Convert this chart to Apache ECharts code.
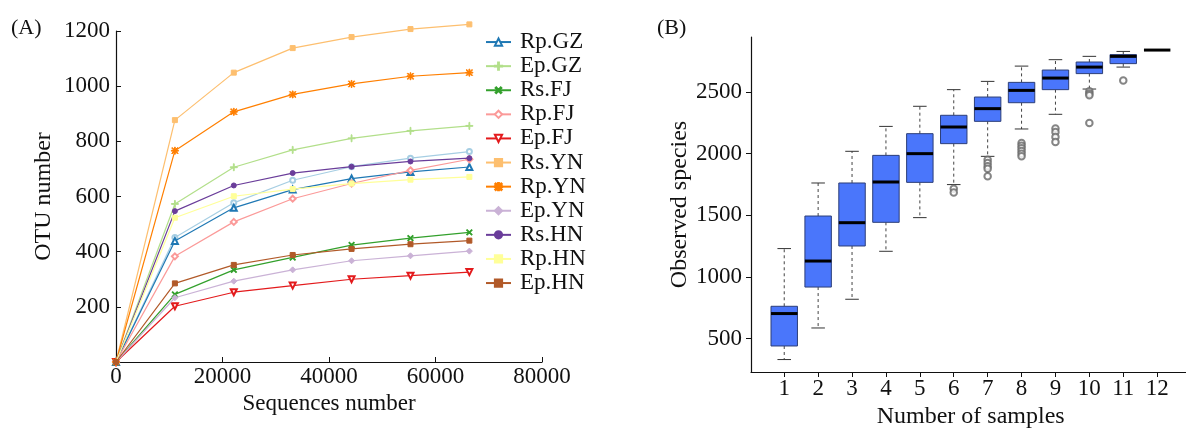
<!DOCTYPE html>
<html>
<head>
<meta charset="utf-8">
<script src="https://cdn.jsdelivr.net/npm/echarts@6/dist/echarts.min.js"></script>
<style>
html,body{margin:0;padding:0;background:#fff;}
#chart{width:1186px;height:429px;}
</style>
</head>
<body>
<div id="chart"></div>
<script>
// ---------- Panel A data ----------
const seqX = [0, 11060, 22120, 33180, 44240, 55300, 66360];
const seriesNames = ['Rs.GZ','Rp.GZ','Ep.GZ','Rs.FJ','Rp.FJ','Ep.FJ','Rs.YN','Rp.YN','Ep.YN','Rs.HN','Rp.HN','Ep.HN'];
const legendNames = ['Rp.GZ','Ep.GZ','Rs.FJ','Rp.FJ','Ep.FJ','Rs.YN','Rp.YN','Ep.YN','Rs.HN','Rp.HN','Ep.HN'];
const RsGZ = [0, 451, 577, 659, 708, 739, 763];
const RpGZ = [0, 439, 559, 625, 665, 689, 707];
const EpGZ = [0, 573, 706, 769, 811, 838, 856];
const RsFJ = [0, 245, 334, 379, 424, 449, 470];
const RpFJ = [0, 383, 508, 592, 647, 695, 735];
const EpFJ = [0, 202, 253, 277, 300, 313, 326];
const RsYN = [0, 877, 1049, 1138, 1178, 1207, 1224];
const RpYN = [0, 766, 907, 970, 1008, 1036, 1049];
const EpYN = [0, 233, 293, 334, 367, 385, 402];
const RsHN = [0, 547, 640, 685, 708, 727, 739];
const RpHN = [0, 523, 601, 627, 647, 661, 671];
const EpHN = [0, 285, 352, 388, 410, 427, 440];
const otuValues = [RsGZ, RpGZ, EpGZ, RsFJ, RpFJ, EpFJ, RsYN, RpYN, EpYN, RsHN, RpHN, EpHN];
const otuTicks = [200, 400, 600, 800, 1000, 1200];
const seqTicks = [0, 20000, 40000, 60000, 80000];

// ---------- Panel B data ----------
const sampleN   = [1, 2, 3, 4, 5, 6, 7, 8, 9, 10, 11, 12];
const whiskLow  = [330, 586, 819, 1208, 1481, 1749, 1978, 2200, 2319, 2524, 2702, 2840];
const q1        = [440, 918, 1251, 1443, 1767, 2081, 2262, 2413, 2519, 2649, 2730, 2840];
const medianV   = [703, 1129, 1440, 1770, 2000, 2216, 2365, 2513, 2613, 2702, 2789, 2840];
const q3        = [762, 1494, 1762, 1986, 2162, 2311, 2459, 2578, 2678, 2743, 2803, 2840];
const whiskHigh = [1230, 1762, 2019, 2221, 2384, 2519, 2586, 2710, 2762, 2789, 2829, 2840];
const outlierX  = [6, 6, 7, 7, 7, 7, 7, 8, 8, 8, 8, 8, 8, 9, 9, 9, 9, 10, 10, 10, 10, 11];
const outlierY  = [1716, 1684, 1951, 1924, 1897, 1878, 1816, 2086, 2065, 2043, 2021, 2000, 1978, 2203, 2175, 2135, 2094, 2505, 2487, 2473, 2248, 2594];
const speciesTicks = [500, 1000, 1500, 2000, 2500];

// ---------- styling ----------
const FONT = 'Liberation Serif';
const colors = ['#a6cee3','#1f78b4','#b2df8a','#33a02c','#fb9a99','#e31a1c','#fdbf6f','#ff7f00','#cab2d6','#6a3d9a','#ffff99','#b15928'];
const plusPath = 'path://M4.4,0H5.6V4.4H10V5.6H5.6V10H4.4V5.6H0V4.4H4.4Z';
const starPath = 'path://M4.4,0H5.6V4.4H10V5.6H5.6V10H4.4V5.6H0V4.4H4.4Z M1.2,0.4L5,4.2L8.8,0.4L9.6,1.2L5.8,5L9.6,8.8L8.8,9.6L5,5.8L1.2,9.6L0.4,8.8L4.2,5L0.4,1.2Z';
const symbols = [
  {s:'emptyCircle', size:5, rot:0},
  {s:'emptyTriangle', size:6, rot:0},
  {s:plusPath, size:7, rot:0},
  {s:plusPath, size:7, rot:45},
  {s:'emptyDiamond', size:6, rot:0},
  {s:'emptyTriangle', size:6, rot:180},
  {s:'rect', size:5, rot:0},
  {s:starPath, size:7, rot:0},
  {s:'diamond', size:6, rot:0},
  {s:'circle', size:5, rot:0},
  {s:'rect', size:5, rot:0},
  {s:'rect', size:5, rot:0}
];
const plain = v => String(v);

const lineSeries = seriesNames.map((name, i) => ({
  name: name,
  type: 'line',
  xAxisIndex: 0, yAxisIndex: 0,
  data: seqX.map((x, j) => [x, otuValues[i][j]]),
  symbol: symbols[i].s,
  symbolSize: symbols[i].size,
  symbolRotate: symbols[i].rot,
  showAllSymbol: true,
  clip: false,
  lineStyle: {color: colors[i], width: 1.2},
  itemStyle: {color: colors[i], borderColor: colors[i], borderWidth: 1},
  emphasis: {disabled: true},
  animation: false,
  z: 2 + i
}));

const boxData = sampleN.map((n, i) => [n, whiskLow[i], q1[i], medianV[i], q3[i], whiskHigh[i]]);

function renderBox(params, api) {
  const x = api.value(0);
  const lo = api.value(1), b1 = api.value(2), md = api.value(3), b3 = api.value(4), hi = api.value(5);
  const halfBox = 0.39, halfCap = 0.2;
  const pLo = api.coord([x, lo]), pHi = api.coord([x, hi]);
  const pQ1 = api.coord([x, b1]), pQ3 = api.coord([x, b3]), pMd = api.coord([x, md]);
  const boxL = api.coord([x - halfBox, md])[0], boxR = api.coord([x + halfBox, md])[0];
  const capL = api.coord([x - halfCap, md])[0], capR = api.coord([x + halfCap, md])[0];
  const children = [];
  const dash = {stroke: '#444', lineWidth: 1, lineDash: [3, 3]};
  const solid = {stroke: '#333', lineWidth: 1};
  if (hi > b3) {
    children.push({type: 'line', shape: {x1: pQ3[0], y1: pQ3[1], x2: pHi[0], y2: pHi[1]}, style: dash});
    children.push({type: 'line', shape: {x1: capL, y1: pHi[1], x2: capR, y2: pHi[1]}, style: solid});
  }
  if (lo < b1) {
    children.push({type: 'line', shape: {x1: pQ1[0], y1: pQ1[1], x2: pLo[0], y2: pLo[1]}, style: dash});
    children.push({type: 'line', shape: {x1: capL, y1: pLo[1], x2: capR, y2: pLo[1]}, style: solid});
  }
  if (b3 > b1) {
    children.push({type: 'rect', shape: {x: boxL, y: pQ3[1], width: boxR - boxL, height: pQ1[1] - pQ3[1]},
      style: {fill: '#4a76fb', stroke: '#2c3e78', lineWidth: 1}});
  }
  children.push({type: 'line', shape: {x1: boxL, y1: pMd[1], x2: boxR, y2: pMd[1]}, style: {stroke: '#000', lineWidth: 3}});
  return {type: 'group', children: children};
}

const option = {
  backgroundColor: '#fff',
  animation: false,
  textStyle: {fontFamily: FONT},
  title: [
    {text: '(A)', left: 6, top: 12, textStyle: {fontFamily: FONT, fontSize: 22, fontWeight: 'normal', color: '#111'}},
    {text: '(B)', left: 652, top: 12, textStyle: {fontFamily: FONT, fontSize: 22, fontWeight: 'normal', color: '#111'}}
  ],
  legend: {
    data: legendNames,
    orient: 'vertical',
    left: 480, top: 25,
    itemWidth: 25, itemHeight: 9, itemGap: 0,
    textStyle: {fontFamily: FONT, fontSize: 23, color: '#111', lineHeight: 24.1, padding: [0, 0, 0, 4]},
    selectedMode: false
  },
  grid: [
    {left: 116, top: 31, width: 426, height: 331, outerBoundsMode: 'none', containLabel: false},
    {left: 751, top: 37, width: 439.4, height: 335, outerBoundsMode: 'none', containLabel: false}
  ],
  xAxis: [
    {
      gridIndex: 0, type: 'value', min: 0, max: 80000, interval: 20000,
      name: 'Sequences number', nameLocation: 'middle', nameGap: 27,
      nameTextStyle: {fontFamily: FONT, fontSize: 23, color: '#111'},
      axisLine: {show: true, lineStyle: {color: '#111', width: 1.2}},
      axisTick: {show: true, inside: true, length: 5, lineStyle: {color: '#111'}, customValues: seqTicks},
      axisLabel: {fontFamily: FONT, fontSize: 23, color: '#111', margin: 3, customValues: seqTicks, formatter: plain},
      splitLine: {show: false}
    },
    {
      gridIndex: 1, type: 'value', min: 0.02, max: 12.98,
      name: 'Number of samples', nameLocation: 'middle', nameGap: 30,
      nameTextStyle: {fontFamily: FONT, fontSize: 24, color: '#111'},
      axisLine: {show: true, lineStyle: {color: '#111', width: 1.2}},
      axisTick: {show: true, inside: false, length: 5, lineStyle: {color: '#111'}, customValues: sampleN},
      axisLabel: {fontFamily: FONT, fontSize: 23, color: '#111', margin: 5, customValues: sampleN, formatter: plain},
      splitLine: {show: false}
    }
  ],
  yAxis: [
    {
      gridIndex: 0, type: 'value', min: 0, max: 1200, interval: 200,
      name: 'OTU number', nameLocation: 'middle', nameGap: 60,
      nameTextStyle: {fontFamily: FONT, fontSize: 24, color: '#111'},
      axisLine: {show: true, lineStyle: {color: '#111', width: 1.2}},
      axisTick: {show: true, inside: true, length: 5, lineStyle: {color: '#111'}, customValues: otuTicks},
      axisLabel: {fontFamily: FONT, fontSize: 23, color: '#111', margin: 6, customValues: otuTicks, formatter: plain},
      splitLine: {show: false}
    },
    {
      gridIndex: 1, type: 'value', min: 229, max: 2946,
      name: 'Observed species', nameLocation: 'middle', nameGap: 59,
      nameTextStyle: {fontFamily: FONT, fontSize: 24, color: '#111'},
      axisLine: {show: true, lineStyle: {color: '#111', width: 1.2}},
      axisTick: {show: true, inside: false, length: 5, lineStyle: {color: '#111'}, customValues: speciesTicks},
      axisLabel: {fontFamily: FONT, fontSize: 23, color: '#111', margin: 9, customValues: speciesTicks, formatter: plain},
      splitLine: {show: false}
    }
  ],
  series: lineSeries.concat([
    {
      name: 'box', type: 'custom', xAxisIndex: 1, yAxisIndex: 1,
      data: boxData, renderItem: renderBox, clip: false,
      encode: {x: 0, y: [1, 2, 3, 4, 5]},
      silent: true, z: 2
    },
    {
      name: 'outliers', type: 'scatter', xAxisIndex: 1, yAxisIndex: 1,
      data: outlierX.map((x, i) => [x, outlierY[i]]),
      symbol: 'emptyCircle', symbolSize: 6.5,
      itemStyle: {color: '#666', borderColor: '#666', borderWidth: 0.8},
      silent: true, z: 3
    }
  ])
};

const chart = echarts.init(document.getElementById('chart'), null, {renderer: 'canvas'});
chart.setOption(option);
</script>
</body>
</html>
